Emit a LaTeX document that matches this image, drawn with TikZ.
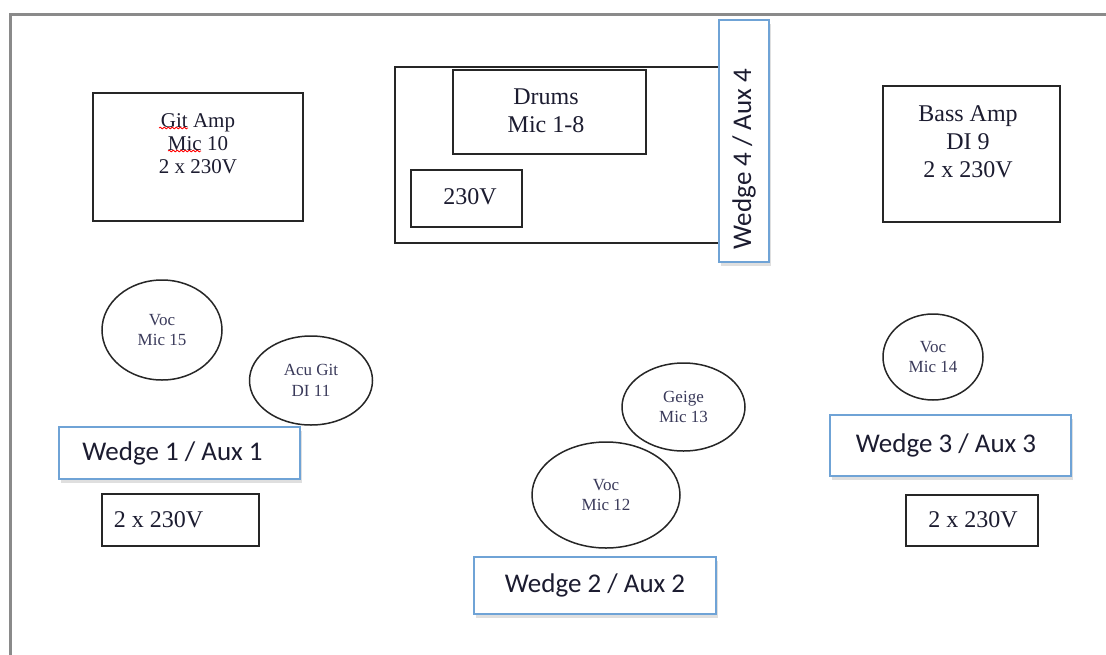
\documentclass[tikz,border=0pt]{standalone}
\usepackage{fontspec}
\setmainfont{Liberation Serif}
\newfontfamily\calib{Carlito}
\usetikzlibrary{shapes.geometric,shadows,decorations.pathmorphing}
\definecolor{wblue}{HTML}{6FA3D6}
\definecolor{txt}{HTML}{1C1C30}
\definecolor{softtxt}{HTML}{3A3A5A}
\definecolor{framegray}{HTML}{8A8A8A}
\begin{document}
\begin{tikzpicture}[x=1pt,y=-1pt,
  box/.style={draw=black!85, line width=1.6pt, inner sep=0pt, fill=white},
  oval/.style={ellipse, draw=black!85, line width=1.5pt, inner sep=0pt, align=center,
    text=softtxt, font=\fontsize{17}{20.5}\selectfont},
  wedge/.style={draw=wblue, line width=2.6pt, fill=white, inner sep=0pt,
    drop shadow={opacity=0.25, shadow xshift=1.5pt, shadow yshift=-4pt}},
  wtext/.style={align=center, text=txt, inner sep=0pt, font=\calib\fontsize{27}{30}\selectfont},
  lbl/.style={align=center, text=txt, inner sep=0pt},
  wavy/.style={red, line width=0.8pt, decorate, decoration={snake, amplitude=0.9pt, segment length=4pt}}]
\useasboundingbox (0,0) rectangle (1106,654);
\fill[white] (0,0) rectangle (1106,654);
% stage frame
\draw[framegray, line width=3pt] (1110,14) -- (10,14) -- (10,660);

% Git amp
\node[box, minimum width=210, minimum height=128] (git) at (198,157) {};
\node[lbl, font=\fontsize{21}{23}\selectfont] (gitT) at (198,144) {Git Amp\\Mic 10\\2 x 230V};
\draw[wavy] (159,128) -- (188,128);
\draw[wavy] (168,151) -- (201,151);

% Drum riser
\node[box, line width=1.3pt, minimum width=330, minimum height=176] (riser) at (560,155) {};
\node[box, minimum width=193, minimum height=84] (drums) at (549.5,112) {};
\node[lbl, font=\fontsize{24}{28}\selectfont] (drumsT) at (546,111) {Drums\\Mic 1-8};
\node[box, minimum width=111, minimum height=57] (pw) at (466.5,198.5) {};
\node[lbl, font=\fontsize{24}{28}\selectfont] (pwT) at (470,197) {230V};

% Wedge 4
\node[wedge, minimum width=50, minimum height=242] (w4) at (744,141) {};
\node[wtext, rotate=90] (w4T) at (744,159) {Wedge 4 / Aux 4};

% Bass amp
\node[box, minimum width=177, minimum height=136] (bass) at (971.5,154) {};
\node[lbl, font=\fontsize{24}{28}\selectfont] (bassT) at (968,142) {Bass Amp\\DI 9\\2 x 230V};

% Left side
\node[oval, minimum width=120, minimum height=100] (voc15) at (162,330) {Voc\\Mic 15};
\node[oval, minimum width=123, minimum height=89] (acu) at (311,380.5) {Acu Git\\DI 11};
\node[wedge, minimum width=241, minimum height=52] (w1) at (179.5,453) {};
\node[wtext] (w1T) at (172.5,453) {Wedge 1 / Aux 1};
\node[box, minimum width=157, minimum height=52] (p1) at (180.5,520) {};
\node[lbl, font=\fontsize{24}{28}\selectfont] (p1T) at (158.5,520) {2 x 230V};

% Centre
\node[oval, minimum width=123, minimum height=88] (geige) at (683.5,407) {Geige\\Mic 13};
\node[oval, minimum width=148, minimum height=106] (voc12) at (606,495) {Voc\\Mic 12};
\node[wedge, minimum width=242, minimum height=57] (w2) at (595,585.5) {};
\node[wtext] (w2T) at (595,585.5) {Wedge 2 / Aux 2};

% Right side
\node[oval, minimum width=100, minimum height=86] (voc14) at (933,357) {Voc\\Mic 14};
\node[wedge, minimum width=241, minimum height=61] (w3) at (950.5,445.5) {};
\node[wtext] (w3T) at (946,445.5) {Wedge 3 / Aux 3};
\node[box, minimum width=132, minimum height=51] (p3) at (972,520.5) {};
\node[lbl, font=\fontsize{24}{28}\selectfont] (p3T) at (973,520) {2 x 230V};
\end{tikzpicture}
\end{document}
